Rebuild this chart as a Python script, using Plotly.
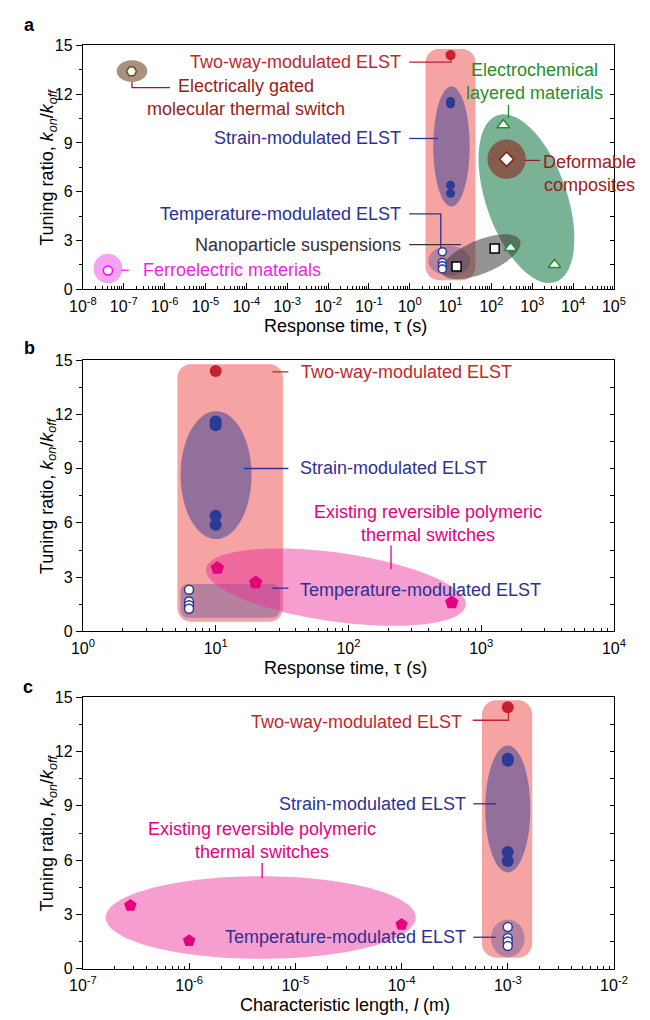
import numpy as np
import plotly.graph_objects as go

# ---------------- data ----------------
# Panel a: response time (s) vs tuning ratio
two_way_tau = [10.0]
two_way_ratio_a = [14.4]
strain_tau = [10.0, 10.0, 10.0, 10.0]
strain_ratio_a = [11.55, 11.4, 6.4, 5.9]
temp_tau = [6.3, 6.3, 6.3, 6.3]
temp_ratio_a = [2.3, 1.65, 1.45, 1.25]
nano_tau = [14.0, 120.0]
nano_ratio = [1.4, 2.5]
echem_tau = [195.0, 295.0, 3500.0]
echem_ratio = [10.1, 2.55, 1.5]
deform_tau = [235.0]
deform_ratio = [8.0]
egated_tau = [1.55e-7]
egated_ratio = [13.4]
ferro_tau = [4.1e-8]
ferro_ratio = [1.15]

# Panel b: ELST + existing polymeric switches vs response time
two_way_ratio_b = [14.4]
strain_ratio_b = [11.6, 11.4, 6.4, 5.9]
temp_ratio_b = [2.3, 1.65, 1.45, 1.25]
poly_tau = [10.3, 20.0, 600.0]
poly_ratio_b = [3.5, 2.7, 1.6]

# Panel c: characteristic length (m)
elst_len = 1e-3
two_way_ratio_c = [14.45]
strain_ratio_c = [11.6, 11.5, 6.45, 5.95]
temp_ratio_c = [2.3, 1.7, 1.5, 1.25]
poly_len = [2.8e-7, 1.0e-6, 1.0e-4]
poly_ratio_c = [3.5, 1.55, 2.45]

# ---------------- geometry ----------------
W, H = 650, 1020
PX_L, PX_R = 72, 627
PANELS = {
    'a': dict(top=38, bot=286, lo=-8, hi=5, xa='x', ya='y'),
    'b': dict(top=358, bot=634, lo=0, hi=4, xa='x2', ya='y2'),
    'c': dict(top=701, bot=977, lo=-7, hi=-2, xa='x3', ya='y3'),
}
YMAX = 15
FONT = "Arial, Liberation Sans, Helvetica, sans-serif"

RED = "#C8202F"
RED_T = "#C1272D"
DRED = "#9B1C20"
BLUE = "#2B3A95"
BLUE_T = "#2E3192"
GREEN = "#1F8F2A"
MAG = "#F01FE8"
PINK = "#E6007E"
GRAY_T = "#333333"


def to_px(p, x, y):
    P = PANELS[p]
    px = PX_L + (np.log10(x) - P['lo']) / (P['hi'] - P['lo']) * (PX_R - PX_L)
    py = P['bot'] - y / YMAX * (P['bot'] - P['top'])
    return px, py


def pp(px, py):
    return px / W, 1 - py / H


def poly_path(X, Y):
    pts = [pp(x, y) for x, y in zip(X, Y)]
    return "M " + " L ".join(f"{a:.5f},{b:.5f}" for a, b in pts) + " Z"


def ellipse_path(p, cx, cy, a, b, ang=0.0, n=120):
    cxp, cyp = to_px(p, cx, cy)
    t = np.linspace(0, 2 * np.pi, n, endpoint=False)
    r = np.radians(ang)
    ex, ey = a * np.cos(t), b * np.sin(t)
    X = cxp + ex * np.cos(r) - ey * np.sin(r)
    Y = cyp - (ex * np.sin(r) + ey * np.cos(r))
    return poly_path(X, Y)


def rrect_path(p, x0, x1, y0, y1, rad, n=12):
    ax, ay = to_px(p, x0, y1)  # left, top
    bx, by = to_px(p, x1, y0)  # right, bottom
    X, Y = [], []
    for cx, cy, a0, a1 in [(bx - rad, ay + rad, -90, 0), (bx - rad, by - rad, 0, 90),
                           (ax + rad, by - rad, 90, 180), (ax + rad, ay + rad, 180, 270)]:
        for t in np.linspace(np.radians(a0), np.radians(a1), n):
            X.append(cx + rad * np.cos(t))
            Y.append(cy + rad * np.sin(t))
    return poly_path(X, Y)


PINK_RECT = "#F5A3A3"
STRAIN_F = "rgba(50,60,150,0.5)"
TEMP_F = "rgba(50,60,150,0.32)"

shapes = []


def add_fill(path, color):
    shapes.append(dict(type="path", path=path, xref="paper", yref="paper",
                       fillcolor=color, line=dict(width=0), layer="below"))


# panel a regions
add_fill(rrect_path('a', 2.43, 40.7, 0.56, 14.78, 14), PINK_RECT)
add_fill(ellipse_path('a', 10.5, 8.78, 19, 61), STRAIN_F)
add_fill(ellipse_path('a', 9.3, 1.75, 22, 15), TEMP_F)
add_fill(ellipse_path('a', 720, 5.57, 90, 42, -70), "rgba(40,130,85,0.62)")
add_fill(ellipse_path('a', 55.6, 2.0, 44, 17, 22), "rgba(60,60,60,0.55)")
add_fill(ellipse_path('a', 235, 8.0, 20, 20), "rgba(140,40,30,0.62)")
add_fill(ellipse_path('a', 1.59e-7, 13.42, 16, 11), "#A8927E")
add_fill(ellipse_path('a', 4.1e-8, 1.27, 15, 15), "#F6A2F2")
# panel b regions
add_fill(rrect_path('b', 5.15, 32.1, 0.54, 14.77, 14), PINK_RECT)
add_fill(ellipse_path('b', 10.07, 8.64, 37, 65), STRAIN_F)
add_fill(rrect_path('b', 5.43, 30.4, 0.76, 2.625, 8), TEMP_F)
add_fill(ellipse_path('b', 80.5, 2.45, 137, 35, -7.8), "rgba(235,40,150,0.45)")
# panel c regions
add_fill(rrect_path('c', 5.71e-4, 1.70e-3, 0.61, 14.84, 15), PINK_RECT)
add_fill(ellipse_path('c', 1e-3, 8.83, 23.5, 64.5), STRAIN_F)
add_fill(ellipse_path('c', 1e-3, 1.68, 17.5, 19), TEMP_F)
add_fill(ellipse_path('c', 4.72e-6, 2.83, 162, 42), "rgba(235,40,150,0.45)")


def connector(points, color):
    pts = [pp(x, y) for x, y in points]
    path = "M " + " L ".join(f"{a:.5f},{b:.5f}" for a, b in pts)
    shapes.append(dict(type="path", path=path, xref="paper", yref="paper",
                       line=dict(color=color, width=1.3), layer="below"))


annotations = []


def label(text, px, py, color, anchor="center", align="center"):
    x, y = pp(px, py)
    annotations.append(dict(text=text, x=x, y=y, xref="paper", yref="paper",
                            xanchor=anchor, yanchor="middle", align=align,
                            showarrow=False, font=dict(family=FONT, size=18, color=color)))


# panel a labels
label("Two-way-modulated ELST", 407, 55, RED_T, "right")
connector([(413, 55), (456.7, 55), (456.7, 50)], RED_T)
label("Electrically gated<br>molecular thermal switch", 242, 91.5, DRED)
connector([(123.3, 75), (123.3, 81), (163, 81)], DRED)
label("Strain-modulated ELST", 407, 132.7, BLUE_T, "right")
connector([(413, 132.7), (443, 132.7)], BLUE_T)
label("Temperature-modulated ELST", 407, 209.3, BLUE_T, "right")
connector([(413, 209.3), (446, 209.3), (446, 244)], BLUE_T)
label("Nanoparticle suspensions", 407, 240.7, GRAY_T, "right")
connector([(413, 240.7), (467, 240.7)], GRAY_T)
label("Ferroelectric materials", 132.7, 266.7, MAG, "left")
connector([(112, 266.7), (120, 266.7)], MAG)
label("Electrochemical<br>layered materials", 544, 74.5, GREEN)
connector([(516.7, 98.3), (516.7, 111.7)], GREEN)
label("Deformable<br>composites", 601, 168, DRED)
connector([(533.3, 155), (550, 155)], DRED)
# panel b labels
label("Two-way-modulated ELST", 297.7, 370, RED_T, "left")
connector([(270, 370), (286.7, 370)], RED_T)
label("Strain-modulated ELST", 296.7, 468.3, BLUE_T, "left")
connector([(240, 468.3), (286.7, 468.3)], BLUE_T)
label("Existing reversible polymeric<br>thermal switches", 433, 524, PINK)
connector([(394, 546.7), (394, 570.7)], PINK)
label("Temperature-modulated ELST", 296.7, 591.7, BLUE_T, "left")
connector([(270, 590), (286.7, 590)], BLUE_T)
# panel c labels
label("Two-way-modulated ELST", 470, 725.7, RED_T, "right")
connector([(479.3, 724.3), (516.7, 724.3), (516.7, 713)], RED_T)
label("Strain-modulated ELST", 474, 809.3, BLUE_T, "right")
connector([(480, 809.3), (503.3, 809.3)], BLUE_T)
label("Existing reversible polymeric<br>thermal switches", 259.5, 846.7, PINK)
connector([(259.3, 869.3), (259.3, 885)], PINK)
label("Temperature-modulated ELST", 474, 945, BLUE_T, "right")
connector([(480, 945), (503.3, 945)], BLUE_T)

# axis titles & panel letters
TF = dict(family=FONT, size=18, color="black")
ytitle = "Tuning ratio, <i>k</i><sub><i>on</i></sub>/<i>k</i><sub><i>off</i></sub>"
for p, t in [('a', "Response time, τ (s)"), ('b', "Response time, τ (s)"),
             ('c', "Characteristic length, <i>l</i> (m)")]:
    P = PANELS[p]
    x, y = pp(36, (P['top'] + P['bot']) / 2)
    annotations.append(dict(text=ytitle, x=x, y=y, xref="paper", yref="paper", textangle=-90,
                            xanchor="center", yanchor="middle", showarrow=False, font=TF))
    x, y = pp(346, P['bot'] + 25)
    annotations.append(dict(text=t, x=x, y=y, xref="paper", yref="paper",
                            xanchor="center", yanchor="top", showarrow=False, font=TF))
for letter, (px, py) in zip("abc", [(16, 17), (16, 346), (15, 691)]):
    x, y = pp(px, py)
    annotations.append(dict(text=f"<b>{letter}</b>", x=x, y=y, xref="paper", yref="paper",
                            xanchor="center", yanchor="middle", showarrow=False,
                            font=dict(family=FONT, size=18, color="black")))

# ---------------- traces ----------------
fig = go.Figure()


def pts(p, x, y, symbol, size, color, line_color=None, lw=1.5):
    P = PANELS[p]
    fig.add_trace(go.Scatter(
        x=x, y=y, mode="markers", xaxis=P['xa'], yaxis=P['ya'], showlegend=False,
        hoverinfo="skip",
        marker=dict(symbol=symbol, size=size, color=color,
                    line=dict(color=line_color or color, width=lw if line_color else 0))))


# panel a
pts('a', two_way_tau, two_way_ratio_a, "circle", 10, RED)
pts('a', strain_tau, strain_ratio_a, "circle", 9, BLUE)
pts('a', temp_tau, temp_ratio_a, "circle", 8, "white", BLUE)
pts('a', nano_tau, nano_ratio, "square", 9, "white", "black")
pts('a', echem_tau, echem_ratio, "triangle-up", 11, "white", GREEN)
pts('a', deform_tau, deform_ratio, "diamond", 11, "white", "#8B1A1A")
pts('a', egated_tau, egated_ratio, "hexagon2", 10, "white", "#7A4A1A")
pts('a', ferro_tau, ferro_ratio, "circle", 9, "white", "#FF00FF")
# panel b
pts('b', two_way_tau, two_way_ratio_b, "circle", 12, RED)
pts('b', strain_tau, strain_ratio_b, "circle", 12, BLUE)
pts('b', temp_tau, temp_ratio_b, "circle", 9, "white", BLUE)
pts('b', poly_tau, poly_ratio_b, "pentagon", 14, PINK)
# panel c
elst = [elst_len] * 4
pts('c', [elst_len], two_way_ratio_c, "circle", 12, RED)
pts('c', elst, strain_ratio_c, "circle", 12, BLUE)
pts('c', elst, temp_ratio_c, "circle", 9, "white", BLUE)
pts('c', poly_len, poly_ratio_c, "pentagon", 13, PINK)

# invisible traces to activate right-side tick axes
for xa, ya, xv in [('x', 'y4', 1.0), ('x2', 'y5', 10.0), ('x3', 'y6', 1e-3)]:
    fig.add_trace(go.Scatter(x=[xv], y=[0], xaxis=xa, yaxis=ya, mode="markers",
                             marker=dict(opacity=0), showlegend=False, hoverinfo="skip"))

# ---------------- axes ----------------
TICKF = dict(family=FONT, size=16, color="black")
layout = dict(width=W, height=H, margin=dict(l=0, r=0, t=0, b=0),
              paper_bgcolor="white", plot_bgcolor="white",
              shapes=shapes, annotations=annotations, showlegend=False)
xdom = [PX_L / W, PX_R / W]
for i, p in enumerate("abc"):
    P = PANELS[p]
    sx = "" if i == 0 else str(i + 1)
    exps = list(range(P['lo'], P['hi'] + 1))
    minor_vals = [m * 10.0 ** k for k in exps[:-1] for m in range(2, 10)]
    ydom = [1 - P['bot'] / H, 1 - P['top'] / H]
    layout["xaxis" + sx] = dict(
        domain=xdom, anchor="y" + sx, type="log", range=[P['lo'], P['hi']],
        tickmode="array", tickvals=[10.0 ** k for k in exps],
        ticktext=[f"10<sup>{k}</sup>" for k in exps],
        ticks="inside", ticklen=6, tickwidth=1, tickcolor="black",
        minor=dict(tickmode="array", tickvals=minor_vals, ticks="inside", ticklen=3,
                   tickwidth=1, tickcolor="black", showgrid=False),
        showline=True, linecolor="black", linewidth=1.3, mirror=True,
        showgrid=False, zeroline=False, tickfont=TICKF, ticklabelstandoff=2)
    layout["yaxis" + sx] = dict(
        domain=ydom, anchor="x" + sx, range=[0, YMAX],
        tickmode="array", tickvals=[0, 3, 6, 9, 12, 15],
        ticks="outside", ticklen=6, tickwidth=1, tickcolor="black",
        minor=dict(tickmode="array", tickvals=[1.5, 4.5, 7.5, 10.5, 13.5], ticks="outside",
                   ticklen=3, tickwidth=1, tickcolor="black", showgrid=False),
        showline=True, linecolor="black", linewidth=1.3, mirror=True,
        showgrid=False, zeroline=False, tickfont=TICKF)
    layout["yaxis" + str(i + 4)] = dict(
        overlaying="y" + sx, anchor="x" + sx, side="right", range=[0, YMAX],
        tickmode="array", tickvals=[1.5 * k for k in range(1, 10)],
        ticks="inside", ticklen=4, tickwidth=1, tickcolor="black",
        showticklabels=False, showline=False, showgrid=False, zeroline=False)

fig.update_layout(**layout)
fig.write_html("out.html")
